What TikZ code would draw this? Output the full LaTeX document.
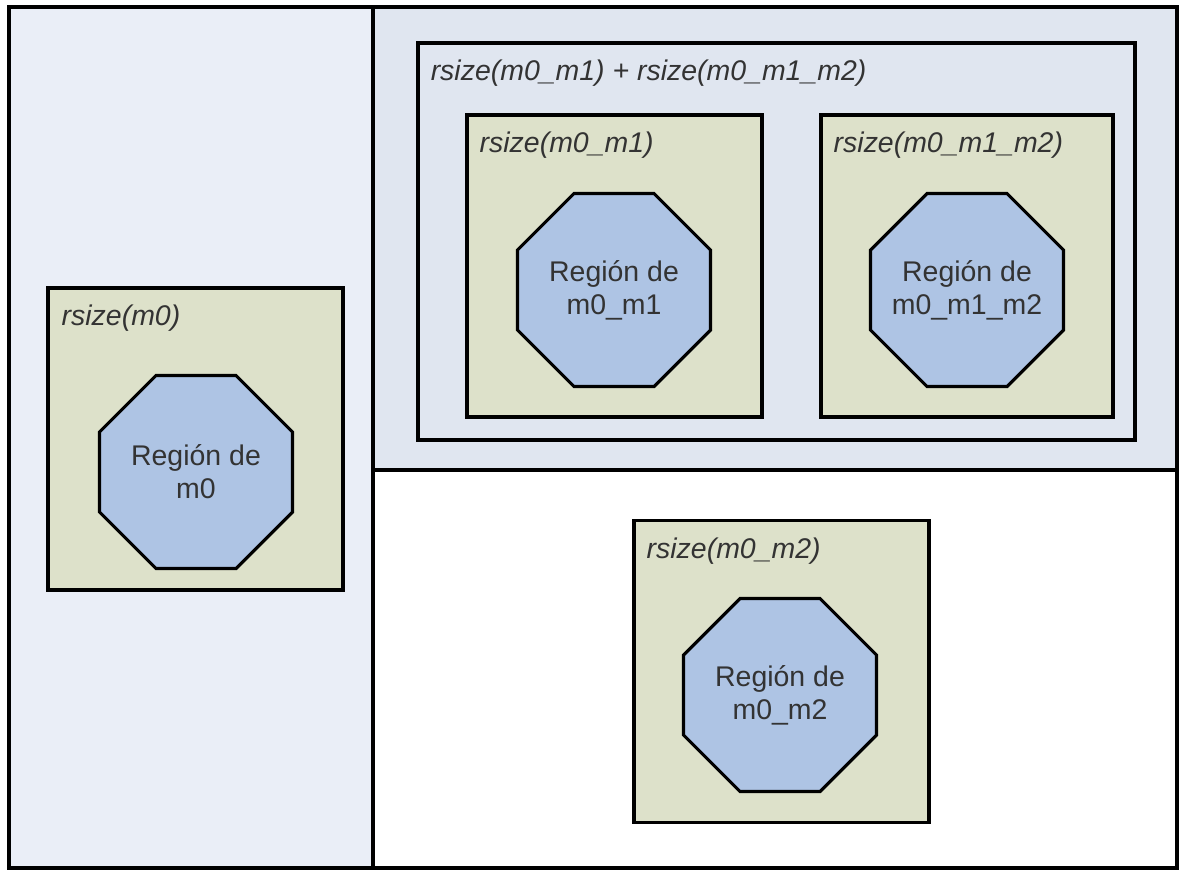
\documentclass[tikz,border=0pt]{standalone}
\usepackage{fontspec}
\setsansfont{Liberation Sans}
\usepackage{tikz}
\usetikzlibrary{shapes.geometric}

\definecolor{leftpanel}{HTML}{EAEEF7}
\definecolor{toppanel}{HTML}{E0E6F0}
\definecolor{sizebox}{HTML}{DDE1CA}
\definecolor{regionfill}{HTML}{AEC4E4}
\definecolor{txtgray}{HTML}{333333}

\tikzset{
  rbox/.style={draw=black, line width=1.9pt, fill=sizebox, minimum width=5.9cm, minimum height=6.04cm, inner sep=0pt},
  region/.style={regular polygon, regular polygon sides=8, draw=black, line width=1.8pt, fill=regionfill,
    minimum size=4.18cm, inner sep=0pt},
  rtext/.style={align=center, inner sep=0pt, text=txtgray, font=\sffamily\fontsize{16.2}{18.8}\selectfont},
  rlabel/.style={anchor=west, inner sep=0pt, text=txtgray, font=\sffamily\itshape\fontsize{16.2}{18}\selectfont}
}

\begin{document}
\begin{tikzpicture}[x=0.02cm,y=-0.02cm]
      \useasboundingbox (0,0) rectangle (1179,869);

      % Draw the background panels
      \fill[leftpanel] (9,7) rectangle (373,868);
      \fill[toppanel] (373,7) rectangle (1177,470);
      \fill[white] (373,470) rectangle (1177,868);
      \draw[line width=2pt] (9,7) rectangle (1177,868);
      \draw[line width=2pt] (373,7) -- (373,868);
      \draw[line width=2pt] (373,470) -- (1177,470);

      % Draw the enclosing box of the two nested sizes
      \node[draw=black, line width=1.9pt, fill=toppanel, minimum width=14.34cm, minimum height=7.94cm] (sum) at (776.5,241.5) {};
      \node[rlabel] at ([xshift=0.28cm,yshift=-0.64cm]sum.north west) {rsize(m0\_m1) + rsize(m0\_m1\_m2)};

      % Draw the size boxes
      \node[rbox] (m0) at (195.5,439) {};
      \node[rbox] (m0m1) at (614.5,266) {};
      \node[rbox, minimum width=5.84cm] (m0m1m2) at (967,266) {};
      \node[rbox] (m0m2) at (781.5,671.5) {};

      \node[rlabel] at ([xshift=0.3cm,yshift=-0.64cm]m0.north west) {rsize(m0)};
      \node[rlabel] at ([xshift=0.28cm,yshift=-0.64cm]m0m1.north west) {rsize(m0\_m1)};
      \node[rlabel] at ([xshift=0.28cm,yshift=-0.64cm]m0m1m2.north west) {rsize(m0\_m1\_m2)};
      \node[rlabel] at ([xshift=0.28cm,yshift=-0.64cm]m0m2.north west) {rsize(m0\_m2)};

      % Draw the regions
      \node[region] (r0) at (196,472) {};
      \node[region] (r01) at (614,290) {};
      \node[region] (r012) at (967,290) {};
      \node[region] (r02) at (780,695) {};

      \node[rtext] at (r0) {Región de\\m0};
      \node[rtext] at (r01) {Región de\\m0\_m1};
      \node[rtext] at (r012) {Región de\\m0\_m1\_m2};
      \node[rtext] at (r02) {Región de\\m0\_m2};
  \end{tikzpicture}
\end{document}
